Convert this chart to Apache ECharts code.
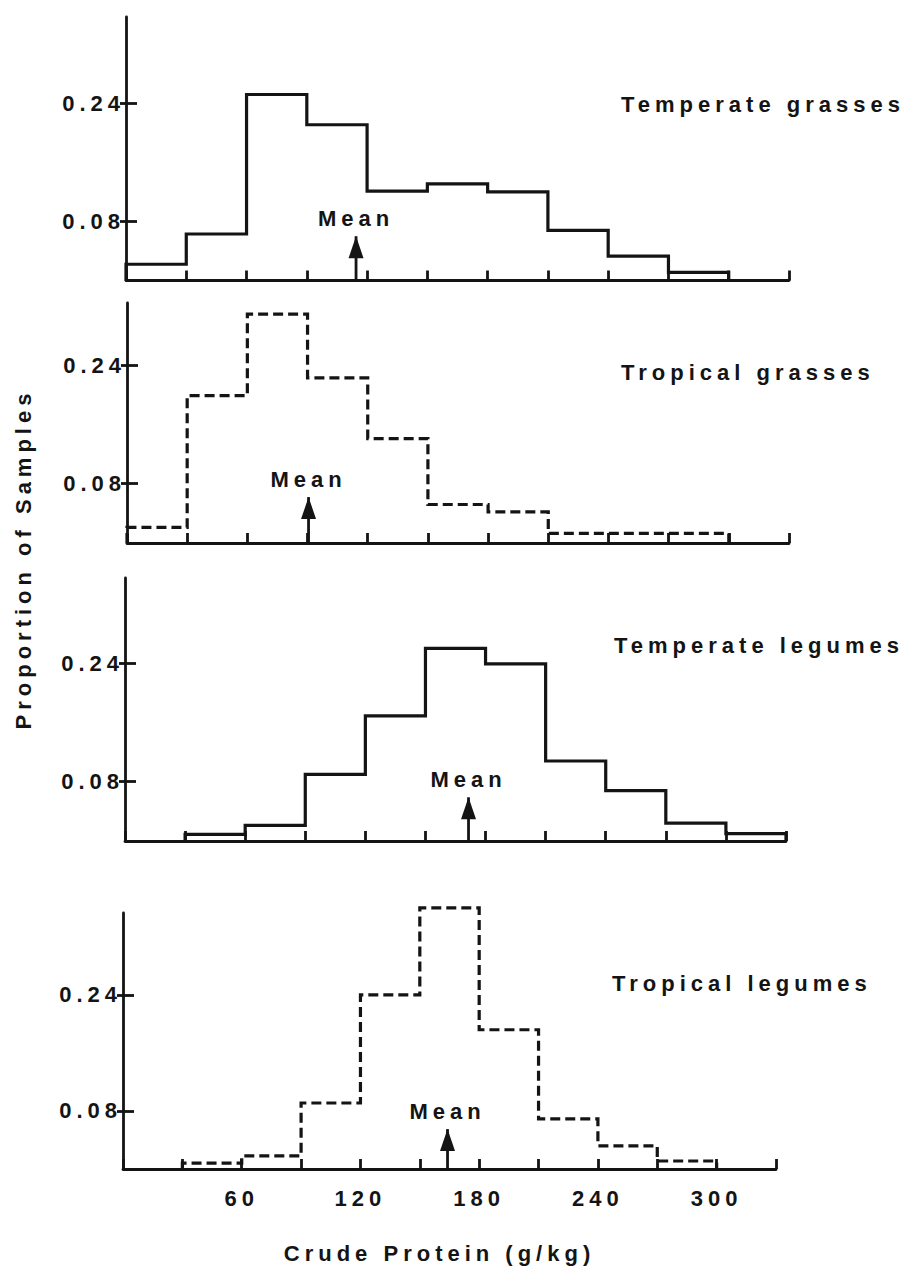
<!DOCTYPE html>
<html>
<head>
<meta charset="utf-8">
<script src="https://cdn.jsdelivr.net/npm/echarts@6/dist/echarts.min.js"></script>
<style>
  html, body { margin: 0; padding: 0; background: #ffffff; }
  #chart { width: 908px; height: 1268px; }
  /* wide tracking of the typewritten lettering */
  #chart text { letter-spacing: 5px; }
</style>
</head>
<body>
<div id="chart"></div>
<script>
// Crude protein classes (g/kg), 30 g/kg wide
const binEdges = [0, 30, 60, 90, 120, 150, 180, 210, 240, 270, 300, 330];

const panelNames = ['Temperate grasses', 'Tropical grasses', 'Temperate legumes', 'Tropical legumes'];

// Proportion of samples in each class (null = no samples)
const temperateGrasses = [0.022, 0.063, 0.252, 0.211, 0.121, 0.131, 0.120, 0.068, 0.033, 0.011, null];
const tropicalGrasses  = [0.021, 0.199, 0.309, 0.223, 0.141, 0.052, 0.042, 0.013, 0.013, 0.013, null];
const temperateLegumes = [null, 0.009, 0.021, 0.090, 0.169, 0.260, 0.239, 0.108, 0.068, 0.024, 0.010];
const tropicalLegumes  = [null, 0.008, 0.018, 0.091, 0.240, 0.360, 0.192, 0.069, 0.032, 0.011, null];

// Mean crude protein of each group and the height the arrow reaches
const meanValues = [114.5, 90.5, 171.5, 164];
const meanArrowTops = [0.060, 0.062, 0.059, 0.055];

// Axis ticks
const yTickValues = [0.08, 0.24];
const xTickLabels = [60, 120, 180, 240, 300];
const yMaxes = [0.357, 0.324, 0.355, 0.353];

const panelSeries = [temperateGrasses, tropicalGrasses, temperateLegumes, tropicalLegumes];
const dashedPanels = [false, true, false, true];

// Placement of the four stacked panels
const gridBoxes = [
  { left: 126, top: 17,  width: 663, height: 263.5 },
  { left: 127, top: 303, width: 662, height: 240 },
  { left: 125, top: 578, width: 661, height: 263 },
  { left: 123, top: 913, width: 653, height: 256 }
];
const titleBoxes = [
  { left: 621, top: 93 },
  { left: 621, top: 361 },
  { left: 614, top: 634 },
  { left: 612, top: 972 }
];

const INK = '#141414';
const FONT = 'Liberation Sans, Arial, Helvetica, sans-serif';
const FONT_SIZE = 22;
const textBase = { color: INK, fontFamily: FONT, fontWeight: 'bold', fontSize: FONT_SIZE };

// Closed step outline of a histogram: up from the baseline, across each class, back down
function outline(vals) {
  let first = vals.findIndex(v => v != null);
  let last = vals.length - 1;
  while (vals[last] == null) last--;
  const pts = [[binEdges[first], 0]];
  for (let i = first; i <= last; i++) {
    pts.push([binEdges[i], vals[i]], [binEdges[i + 1], vals[i]]);
  }
  pts.push([binEdges[last + 1], 0]);
  return pts;
}

const grid = [], xAxis = [], yAxis = [], series = [], title = [];

gridBoxes.forEach((g, i) => {
  const isLast = i === gridBoxes.length - 1;
  grid.push(Object.assign({ containLabel: false, outerBoundsMode: 'none' }, g));

  xAxis.push({
    type: 'value', gridIndex: i, min: binEdges[0], max: binEdges[binEdges.length - 1], interval: 30,
    axisLine: { show: true, onZero: false, lineStyle: { color: INK, width: 2.8 } },
    axisTick: { show: true, inside: true, length: 10, lineStyle: { color: INK, width: 2.8 } },
    axisLabel: isLast
      ? Object.assign({ show: true, customValues: xTickLabels, margin: 18 }, textBase)
      : { show: false },
    splitLine: { show: false },
    name: isLast ? 'Crude Protein (g/kg)' : '',
    nameLocation: 'middle',
    nameGap: 73,
    nameTextStyle: Object.assign({ padding: [0, 20, 0, 0] }, textBase)
  });

  // left axis: line, labels and the outer half of each tick
  yAxis.push({
    type: 'value', gridIndex: i, position: 'left', min: 0, max: yMaxes[i],
    axisLine: { show: true, lineStyle: { color: INK, width: 2.8 } },
    axisTick: { show: true, inside: false, length: 6, customValues: yTickValues, lineStyle: { color: INK, width: 2.8 } },
    axisLabel: Object.assign({ show: true, customValues: yTickValues, margin: 1, formatter: v => v.toFixed(2) }, textBase),
    splitLine: { show: false }
  });
  // companion axis drawn on the same edge: inner half of each tick
  yAxis.push({
    type: 'value', gridIndex: i, position: 'right', offset: -g.width, min: 0, max: yMaxes[i],
    axisLine: { show: false },
    axisTick: { show: true, inside: false, length: 11, customValues: yTickValues, lineStyle: { color: INK, width: 2.8 } },
    axisLabel: { show: false },
    splitLine: { show: false }
  });

  title.push({
    text: panelNames[i], left: titleBoxes[i].left, top: titleBoxes[i].top, padding: 0,
    textStyle: Object.assign({ lineHeight: FONT_SIZE }, textBase)
  });

  series.push({
    type: 'line', xAxisIndex: i, yAxisIndex: 2 * i,
    data: outline(panelSeries[i]),
    symbol: 'none', clip: false, silent: true,
    lineStyle: { color: INK, width: 3.2, type: dashedPanels[i] ? [10, 5] : 'solid', cap: 'butt', join: 'miter' }
  });

  series.push({
    type: 'line', xAxisIndex: i, yAxisIndex: 2 * i,
    symbol: 'none', clip: false, silent: true,
    lineStyle: { color: INK, width: 2.8 },
    data: [
      { value: [meanValues[i], 0] },
      {
        value: [meanValues[i], meanArrowTops[i]],
        symbol: 'triangle', symbolSize: [15, 22], symbolOffset: [0, '50%'],
        itemStyle: { color: INK },
        label: Object.assign({ show: true, position: 'top', distance: 7, formatter: 'Mean' }, textBase)
      }
    ]
  });
});

const chart = echarts.init(document.getElementById('chart'), null, { renderer: 'svg', width: 908, height: 1268 });
chart.setOption({
  backgroundColor: '#ffffff',
  animation: false,
  title,
  grid, xAxis, yAxis, series,
  graphic: [{
    type: 'text', x: 23, y: 559, rotation: Math.PI / 2, silent: true,
    style: {
      text: 'Proportion of Samples', align: 'center', verticalAlign: 'middle',
      fill: INK, font: 'bold ' + FONT_SIZE + 'px ' + FONT
    }
  }]
});
</script>
</body>
</html>
